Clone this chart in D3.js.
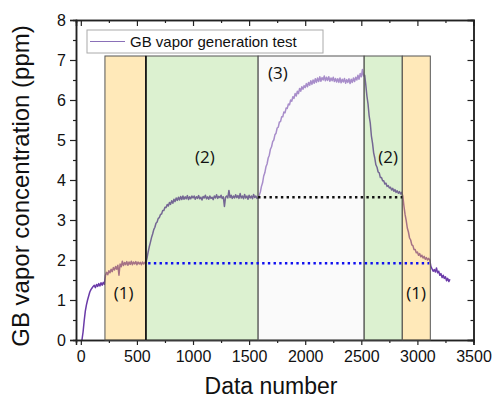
<!DOCTYPE html>
<html><head><meta charset="utf-8">
<script src="https://cdn.jsdelivr.net/npm/d3@7"></script>
<style>body{margin:0;background:#fff}svg{display:block}</style>
</head><body>
<svg id="c" width="492" height="401"></svg>
<script>
// ---- data ----
const dataStart = 10, dataStep = 10;
const concentration = [
 0.0,0.2,0.48,0.72,0.88,1.0,1.1,1.2,1.26,1.3,1.34,1.37,1.31,1.39,1.34,1.41,1.35,1.43,1.37,1.44,1.39,
 1.62,1.69,1.63,1.73,1.68,1.77,1.71,1.81,1.75,1.84,1.77,1.87,1.62,1.9,1.83,1.97,1.86,1.94,1.88,1.96,1.87,1.95,1.89,1.97,1.88,1.95,1.9,1.96,1.88,1.95,1.9,1.94,1.88,1.95,1.9,1.94,1.92,
 2.05,2.2,2.33,2.44,2.56,2.65,2.76,2.82,2.92,2.95,3.04,3.06,3.14,3.15,3.24,3.24,3.32,3.31,3.39,3.35,3.44,3.39,3.48,3.42,3.52,3.46,3.55,3.49,3.57,3.5,3.59,3.51,3.6,3.52,3.58,3.53,3.61,3.51,3.58,3.53,3.6,
 3.55,3.6,3.52,3.58,3.54,3.61,3.53,3.57,3.5,3.59,3.55,3.62,3.53,3.58,3.52,3.6,3.54,3.57,3.51,3.6,3.55,3.63,3.54,3.59,3.56,3.62,3.54,3.58,3.34,3.57,3.6,3.55,3.74,3.56,3.62,3.54,3.6,3.55,3.63,3.56,3.61,3.54,3.66,3.55,3.6,3.53,3.64,3.55,3.6,3.52,3.62,3.55,3.6,3.53,3.64,3.56,3.6,3.54,
 3.55,3.62,3.7,3.84,3.93,4.1,4.18,4.33,4.4,4.55,4.62,4.77,4.83,4.96,5.0,5.13,5.17,5.3,5.32,5.45,5.46,5.58,5.58,5.7,5.68,5.8,5.79,5.9,5.88,6.0,5.97,6.08,6.04,6.16,6.1,6.22,6.16,6.29,6.22,6.33,6.27,6.36,6.31,
 6.41,6.33,6.44,6.37,6.48,6.39,6.5,6.42,6.53,6.44,6.55,6.46,6.58,6.47,6.56,6.5,6.6,6.48,6.57,6.49,6.58,6.47,6.55,6.48,6.57,6.46,6.54,6.45,6.53,6.44,6.55,6.43,6.52,6.45,6.54,6.42,6.51,6.44,6.53,6.41,6.52,6.44,6.55,6.46,6.57,6.5,6.62,6.52,6.66,6.58,6.76,6.6,
 6.62,6.38,6.1,5.9,5.6,5.42,5.1,4.92,4.68,4.55,4.38,4.32,4.2,4.18,4.06,4.06,3.98,3.98,3.9,3.92,3.84,3.86,3.8,3.82,3.75,3.79,3.72,3.76,3.69,3.73,3.67,3.71,3.65,3.69,
 3.6,3.35,3.14,2.99,2.8,2.7,2.55,2.5,2.38,2.36,2.26,2.26,2.18,2.2,2.12,2.16,2.08,2.12,2.05,2.09,2.02,2.06,2.0,2.04,2.0,
 1.84,1.78,1.72,1.76,1.7,1.8,1.68,1.72,1.62,1.66,1.56,1.62,1.54,1.58,1.48,1.54,1.46,1.52
];
const regionStarts = [215, 580, 1580, 2525, 2865];
const regionEnds   = [580, 1580, 2525, 2865, 3115];
const regionKinds  = ["orange", "green", "white", "green", "orange"];
const regionLabels = ["(1)", "(2)", "(3)", "(2)", "(1)"];
const labelX = [381, 1106, 1757, 2739, 2988];
const labelY = [1.18, 4.58, 6.68, 4.58, 1.18];
const regionTop = 7.1;
const refLevels = [1.92, 3.57];
const refStarts = [600, 1580];
const refEnds = [3105, 2865];
const xTicks = [0, 500, 1000, 1500, 2000, 2500, 3000, 3500];
const yTicks = [0, 1, 2, 3, 4, 5, 6, 7, 8];
const legendLabel = "GB vapor generation test";

// ---- layout ----
const svg = d3.select("#c");
const L = 76, R = 473.5, T = 20, B = 340;
const x = d3.scaleLinear().domain([-43, 3500]).range([L, R]);
const y = d3.scaleLinear().domain([0, 8]).range([B, T]);
const font = "'Liberation Sans', Arial, sans-serif";
const axisColor = "#222";

const pts = concentration.map((v, i) => [dataStart + i * dataStep, v]);

// data line (under overlays)
svg.append("path").datum(pts)
  .attr("fill", "none").attr("stroke", "#6a3aa8").attr("stroke-width", 1.5)
  .attr("stroke-linejoin", "round")
  .attr("d", d3.line().x(d => x(d[0])).y(d => y(d[1])));

// axes
function styleAxis(g) {
  g.selectAll("path.domain").attr("stroke", axisColor).attr("stroke-width", 1.5);
  g.selectAll(".tick line").attr("stroke", axisColor).attr("stroke-width", 1.2);
  g.selectAll(".tick text").attr("font-family", font).attr("font-size", 16).attr("fill", "#111");
}
const yMinor = d3.range(0, 8.01, 0.5).filter(v => v % 1 !== 0);
const xMinor = d3.range(0, 3501, 250).filter(v => v % 500 !== 0);

// minor ticks
svg.append("g").attr("transform", `translate(${L},0)`)
  .call(d3.axisLeft(y).tickValues(yMinor).tickSize(3).tickFormat("")).call(styleAxis);
svg.append("g").attr("transform", `translate(${R},0)`)
  .call(d3.axisLeft(y).tickValues(yMinor).tickSize(3).tickFormat("")).call(styleAxis);
svg.append("g").attr("transform", `translate(0,${B})`)
  .call(d3.axisBottom(x).tickValues(xMinor).tickSize(3).tickFormat("")).call(styleAxis);
svg.append("g").attr("transform", `translate(0,${T})`)
  .call(d3.axisBottom(x).tickValues(xMinor).tickSize(3).tickFormat("")).call(styleAxis);

// major ticks
svg.append("g").attr("transform", `translate(${L},0)`)
  .call(d3.axisLeft(y).tickValues(yTicks).tickSize(6).tickPadding(4).tickFormat(d3.format("d"))).call(styleAxis);
svg.append("g").attr("transform", `translate(${R},0)`)
  .call(d3.axisLeft(y).tickValues(yTicks).tickSize(6).tickFormat("")).call(styleAxis);
svg.append("g").attr("transform", `translate(0,${T})`)
  .call(d3.axisBottom(x).tickValues(xTicks).tickSize(6).tickFormat("")).call(styleAxis);
svg.append("g").attr("transform", `translate(0,${B})`)
  .call(d3.axisBottom(x).tickValues(xTicks).tickSize(5).tickPadding(6).tickFormat(d3.format("d"))).call(styleAxis);

// region overlays
const overlayFill = {orange: "rgb(255,200,80)", green: "rgb(140,210,100)", white: "rgb(245,245,245)"};
const overlayAlpha = {orange: 0.4, green: 0.3, white: 0.45};
regionStarts.forEach((s, i) => {
  const k = regionKinds[i];
  svg.append("rect")
    .attr("x", x(s)).attr("y", y(regionTop))
    .attr("width", x(regionEnds[i]) - x(s)).attr("height", y(0) - y(regionTop))
    .attr("fill", overlayFill[k]).attr("fill-opacity", overlayAlpha[k])
    .attr("stroke", "#555").attr("stroke-width", 1);
});
// darker boundary line
svg.append("line").attr("x1", x(regionEnds[0])).attr("x2", x(regionEnds[0]))
  .attr("y1", y(regionTop)).attr("y2", y(0)).attr("stroke", "#111").attr("stroke-width", 1.6);

// reference dotted lines
const refColors = ["#1010f0", "#111"];
refLevels.forEach((lv, i) => {
  svg.append("line").attr("x1", x(refStarts[i])).attr("x2", x(refEnds[i]))
    .attr("y1", y(lv)).attr("y2", y(lv))
    .attr("stroke", refColors[i]).attr("stroke-width", 2.4).attr("stroke-dasharray", "2.4,3.3");
});

// region labels
regionLabels.forEach((t, i) => {
  svg.append("text").attr("x", x(labelX[i])).attr("y", y(labelY[i]))
    .attr("text-anchor", "middle").attr("dominant-baseline", "central")
    .attr("font-family", "'Open Sans', sans-serif").attr("font-size", 17).attr("fill", "#111").text(t);
});

// legend
svg.append("rect").attr("x", 87).attr("y", 30).attr("width", 236).attr("height", 23)
  .attr("fill", "#fff").attr("stroke", "#aaa").attr("stroke-width", 1);
svg.append("line").attr("x1", 90).attr("x2", 125).attr("y1", 41.5).attr("y2", 41.5)
  .attr("stroke", "#8a70b8").attr("stroke-width", 1.2);
svg.append("text").attr("x", 130).attr("y", 47).attr("font-family", font).attr("font-size", 15)
  .attr("fill", "#111").text(legendLabel);

// axis titles
svg.append("text").attr("x", 271).attr("y", 394).attr("text-anchor", "middle")
  .attr("font-family", font).attr("font-size", 23).attr("fill", "#111").text("Data number");
svg.append("text").attr("transform", "translate(29,186) rotate(-90)").attr("text-anchor", "middle")
  .attr("font-family", font).attr("font-size", 24).attr("fill", "#111").text("GB vapor concentration (ppm)");
</script>
</body></html>
